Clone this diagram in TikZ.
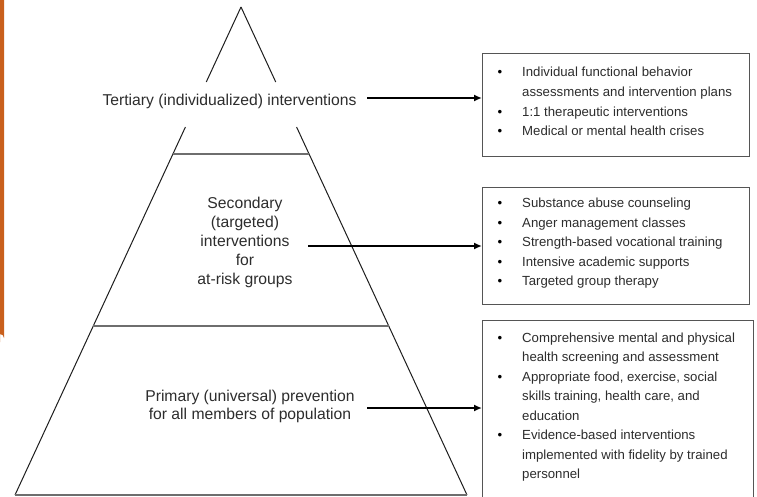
\documentclass[tikz,border=0pt]{standalone}
\usepackage{fontspec}
\setmainfont{Liberation Sans}
\usetikzlibrary{arrows.meta,calc}
\definecolor{orng}{RGB}{201,96,28}
\definecolor{txt}{RGB}{45,45,45}
\definecolor{edge}{RGB}{30,30,30}
\definecolor{boxc}{RGB}{85,85,85}
\definecolor{hline}{RGB}{110,110,110}
\tikzset{
  tier/.style={font=\fontsize{15.7}{19}\selectfont, text=txt, inner sep=0pt, align=center},
  btext/.style={font=\fontsize{13.2}{19.6}\selectfont, text=txt, inner sep=0pt, anchor=base west},
  bul/.style={font=\fontsize{13.2}{19.6}\selectfont, text=black, inner sep=0pt, anchor=base},
  side/.style={draw=edge, line width=1pt},
  level/.style={draw=hline, line width=1.1pt},
  listbox/.style={draw=boxc, line width=1.2pt, inner sep=0pt, anchor=north west},
  arr/.style={draw=black, line width=1.6pt, -{Latex[length=8pt,width=7pt]}}
}
\begin{document}
\begin{tikzpicture}[x=1pt,y=-1pt]
\useasboundingbox (0,0) rectangle (757,497);
\fill[white] (0,0) rectangle (757,497);
% orange side bar
\fill[orng] (0,0) -- (4,0) -- (4,338) arc[start angle=0,end angle=-90,radius=4] -- (0,342) -- cycle;
% pyramid
\coordinate (A) at (241,7);
\coordinate (BL) at (15,495);
\coordinate (BR) at (467,495);
\draw[side] (A) -- ($(A)!0.1537!(BL)$);
\draw[side] (A) -- ($(A)!0.1537!(BR)$);
\draw[side] ($(A)!0.2459!(BL)$) -- (BL);
\draw[side] ($(A)!0.2459!(BR)$) -- (BR);
\draw[level] ($(A)!0.3012!(BL)$) -- ($(A)!0.3012!(BR)$);
\draw[level] ($(A)!0.6537!(BL)$) -- ($(A)!0.6537!(BR)$);
\draw[level] (BL) -- (BR);
% tier labels (base anchor = baseline of last line)
\node[tier, anchor=base] (tert) at (229.5,106) {Tertiary (individualized) interventions};
\node[tier, anchor=base] (sec) at (245,284) {Secondary\\(targeted)\\interventions\\for\\at-risk groups};
\node[tier, font=\fontsize{15.7}{18}\selectfont, anchor=base] (prim) at (250,419) {Primary (universal) prevention\\for all members of population};
% boxes
\node[listbox, minimum width=267pt, minimum height=103pt] (box1) at (482,53) {};
\node[listbox, minimum width=267pt, minimum height=117pt] (box2) at (482,187) {};
\node[listbox, minimum width=271pt, minimum height=177pt] (box3) at (482,320) {};
% arrows
\coordinate (s1) at (367,98);
\coordinate (s2) at (308,246);
\coordinate (s3) at (367,408);
\draw[arr] (s1) -- (s1 -| box1.west);
\draw[arr] (s2) -- (s2 -| box2.west);
\draw[arr] (s3) -- (s3 -| box3.west);
% box 1 text
\foreach \y/\b/\t [count=\i] in {
  77/1/{Individual functional behavior},
  96.6/0/{assessments and intervention plans},
  116.2/1/{1:1 therapeutic interventions},
  135.8/1/{Medical or mental health crises}}{
  \node[btext] (a\i) at (522,\y) {\t};
  \ifnum\b=1 \node[bul] (ab\i) at (500,\y) {\textbullet}; \fi
}
% box 2 text
\foreach \y/\b/\t [count=\i] in {
  207.5/1/{Substance abuse counseling},
  227.1/1/{Anger management classes},
  246.7/1/{Strength-based vocational training},
  266.3/1/{Intensive academic supports},
  285.9/1/{Targeted group therapy}}{
  \node[btext] (c\i) at (522,\y) {\t};
  \ifnum\b=1 \node[bul] (cb\i) at (500,\y) {\textbullet}; \fi
}
% box 3 text
\foreach \y/\b/\t [count=\i] in {
  342/1/{Comprehensive mental and physical},
  361.5/0/{health screening and assessment},
  381/1/{Appropriate food, exercise, social},
  400.5/0/{skills training, health care, and},
  420/0/{education},
  439.5/1/{Evidence-based interventions},
  459/0/{implemented with fidelity by trained},
  478.5/0/{personnel}}{
  \node[btext] (e\i) at (522,\y) {\t};
  \ifnum\b=1 \node[bul] (eb\i) at (500,\y) {\textbullet}; \fi
}
\end{tikzpicture}
\end{document}
